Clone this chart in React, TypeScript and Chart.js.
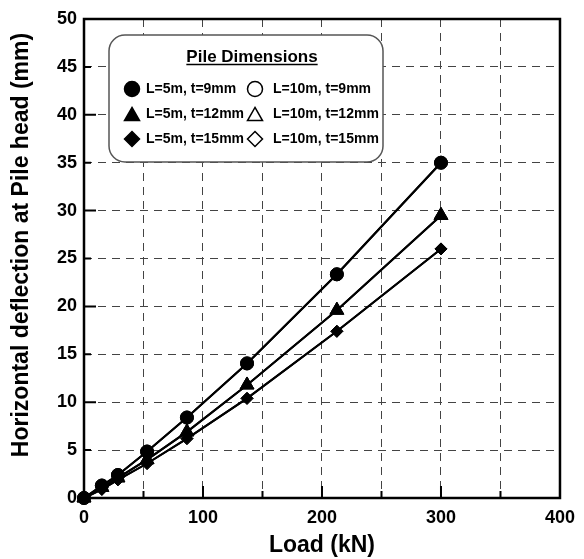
import React, { useEffect, useRef } from 'react';
import { Chart, registerables } from 'chart.js';

Chart.register(...registerables);

// Load (kN)
const loads = [0, 15, 28.5, 53, 86.5, 137, 212.5, 300];
// Horizontal deflection at pile head (mm)
const deflL5t9 = [0, 1.3, 2.4, 4.85, 8.4, 14.05, 23.35, 35.0];
const deflL5t12 = [0, 1.1, 2.1, 4.0, 6.9, 11.8, 19.6, 29.5];
const deflL5t15 = [0, 0.9, 1.9, 3.6, 6.2, 10.4, 17.4, 26.0];
const deflL10t9 = [0, 1.3, 2.4, 4.85, 8.4, 14.05, 23.35, 35.0];
const deflL10t12 = [0, 1.1, 2.1, 4.0, 6.9, 11.8, 19.6, 29.5];
const deflL10t15 = [0, 0.9, 1.9, 3.6, 6.2, 10.4, 17.4, 26.0];

const seriesLabels = [
  'L=5m, t=9mm',
  'L=5m, t=12mm',
  'L=5m, t=15mm',
  'L=10m, t=9mm',
  'L=10m, t=12mm',
  'L=10m, t=15mm',
];
const legendTitle = 'Pile Dimensions';
const xTitle = 'Load (kN)';
const yTitle = 'Horizontal deflection at Pile head (mm)';

const FONT = "'Liberation Sans', Arial, sans-serif";

const toPoints = (ys: number[]) => loads.map((x, i) => ({ x, y: ys[i] }));

function drawMarker(ctx: CanvasRenderingContext2D, shape: string, x: number, y: number, r: number, filled: boolean) {
  ctx.beginPath();
  if (shape === 'circle') {
    ctx.arc(x, y, r, 0, Math.PI * 2);
  } else if (shape === 'triangle') {
    const h = r * 1.75;
    ctx.moveTo(x, y - h / 2);
    ctx.lineTo(x + r, y + h / 2);
    ctx.lineTo(x - r, y + h / 2);
    ctx.closePath();
  } else {
    ctx.moveTo(x, y - r);
    ctx.lineTo(x + r, y);
    ctx.lineTo(x, y + r);
    ctx.lineTo(x - r, y);
    ctx.closePath();
  }
  ctx.fillStyle = filled ? '#000' : '#fff';
  ctx.fill();
  ctx.lineWidth = 1.5;
  ctx.strokeStyle = '#000';
  ctx.stroke();
}

const framePlugin = {
  id: 'frame',
  beforeDatasetsDraw(chart: any) {
    const { ctx, chartArea: a, scales } = chart;
    const x = scales.x;
    const y = scales.y;
    ctx.save();
    ctx.strokeStyle = '#000';
    ctx.lineWidth = 2;
    ctx.beginPath();
    x.ticks.forEach((t: any) => {
      const px = x.getPixelForValue(t.value);
      const len = t.value % 100 === 0 ? 12 : 7;
      ctx.moveTo(px, a.bottom);
      ctx.lineTo(px, a.bottom - len);
    });
    y.ticks.forEach((t: any) => {
      const py = y.getPixelForValue(t.value);
      const len = t.value % 10 === 0 ? 12 : 7;
      ctx.moveTo(a.left, py);
      ctx.lineTo(a.left + len, py);
    });
    ctx.stroke();
    ctx.lineWidth = 2.5;
    ctx.strokeRect(a.left, a.top, a.right - a.left, a.bottom - a.top);
    ctx.restore();

    // y-axis title (drawn here so it can sit slightly above the axis centre, as in the reference)
    ctx.save();
    ctx.translate(22, 245);
    ctx.rotate(-Math.PI / 2);
    ctx.font = `bold 23px ${FONT}`;
    ctx.fillStyle = '#000';
    ctx.textAlign = 'center';
    ctx.textBaseline = 'middle';
    ctx.fillText(yTitle, 0, 0);
    ctx.restore();
  },
};

const legendPlugin = {
  id: 'pileLegend',
  afterDraw(chart: any) {
    const { ctx, chartArea: a } = chart;
    const bx = a.left + 25;
    const by = a.top + 16;
    const bw = 274;
    const bh = 127;
    ctx.save();
    ctx.beginPath();
    ctx.roundRect(bx, by, bw, bh, 16);
    ctx.fillStyle = '#fff';
    ctx.fill();
    ctx.lineWidth = 1.5;
    ctx.strokeStyle = '#555';
    ctx.stroke();

    ctx.fillStyle = '#000';
    ctx.font = `bold 17px ${FONT}`;
    ctx.textAlign = 'center';
    ctx.textBaseline = 'alphabetic';
    const tx = bx + 143;
    const ty = by + 27;
    ctx.fillText(legendTitle, tx, ty);
    const tw = ctx.measureText(legendTitle).width;
    ctx.beginPath();
    ctx.lineWidth = 1.5;
    ctx.strokeStyle = '#000';
    ctx.moveTo(tx - tw / 2, ty + 2.5);
    ctx.lineTo(tx + tw / 2, ty + 2.5);
    ctx.stroke();

    const shapes = ['circle', 'triangle', 'rectRot'];
    ctx.font = `bold 14px ${FONT}`;
    ctx.textAlign = 'left';
    ctx.textBaseline = 'middle';
    seriesLabels.forEach((lab, i) => {
      const col = i < 3 ? 0 : 1;
      const row = i % 3;
      const cy = by + 54 + row * 25;
      const mx = col === 0 ? bx + 23 : bx + 146;
      const textX = col === 0 ? bx + 37 : bx + 164;
      drawMarker(ctx, shapes[row], mx, cy, row === 0 ? 7.5 : 7.5, col === 0);
      ctx.fillStyle = '#000';
      ctx.fillText(lab, textX, cy);
    });
    ctx.restore();
  },
};

export default function App() {
  const ref = useRef<HTMLCanvasElement>(null);

  useEffect(() => {
    const styles = ['circle', 'triangle', 'rectRot'];
    const radii = [6.5, 8, 6];
    const all = [deflL5t9, deflL5t12, deflL5t15, deflL10t9, deflL10t12, deflL10t15];
    const datasets = all.map((ys, i) => {
      const filled = i < 3;
      return {
        label: seriesLabels[i],
        data: toPoints(ys),
        borderColor: '#000',
        borderWidth: 2,
        backgroundColor: filled ? '#000' : '#fff',
        pointStyle: styles[i % 3],
        pointRadius: radii[i % 3],
        pointBorderWidth: 1,
        pointBorderColor: '#000',
        pointBackgroundColor: filled ? '#000' : '#fff',
        showLine: true,
        tension: 0,
        clip: false,
      };
    });

    const chart = new Chart(ref.current as HTMLCanvasElement, {
      type: 'scatter',
      data: { datasets } as any,
      options: {
        responsive: false,
        animation: false,
        devicePixelRatio: 1,
        layout: { padding: { top: 19, right: 22, left: 0, bottom: 0 } },
        plugins: { legend: { display: false }, tooltip: { enabled: false } },
        scales: {
          x: {
            type: 'linear',
            min: 0,
            max: 400,
            afterFit: (s: any) => {
              s.height = 61;
            },
            ticks: {
              stepSize: 50,
              autoSkip: false,
              maxRotation: 0,
              padding: 9,
              color: '#000',
              font: { family: FONT, size: 18, weight: 'bold' },
              callback: (v: any) => (Number(v) % 100 === 0 ? String(v) : ''),
            },
            grid: { color: '#444', lineWidth: 1, drawTicks: false },
            border: { display: false, dash: [8, 6] },
            title: {
              display: true,
              text: xTitle,
              color: '#000',
              font: { family: FONT, size: 23, weight: 'bold' },
              padding: { top: 0, bottom: 0 },
            },
          },
          y: {
            type: 'linear',
            min: 0,
            max: 50,
            afterFit: (s: any) => {
              s.width = 84;
            },
            ticks: {
              stepSize: 5,
              autoSkip: false,
              padding: 7,
              color: '#000',
              font: { family: FONT, size: 18, weight: 'bold' },
            },
            grid: { color: '#444', lineWidth: 1, drawTicks: false },
            border: { display: false, dash: [8, 6] },
            title: { display: false, text: yTitle },
          },
        },
      } as any,
      plugins: [framePlugin, legendPlugin],
    });
    return () => chart.destroy();
  }, []);

  return (
    <div style={{ position: 'absolute', left: 0, top: 0, width: 584, height: 559, background: '#fff' }}>
      <canvas ref={ref} width={584} height={559} style={{ width: 584, height: 559, display: 'block' }} />
    </div>
  );
}
